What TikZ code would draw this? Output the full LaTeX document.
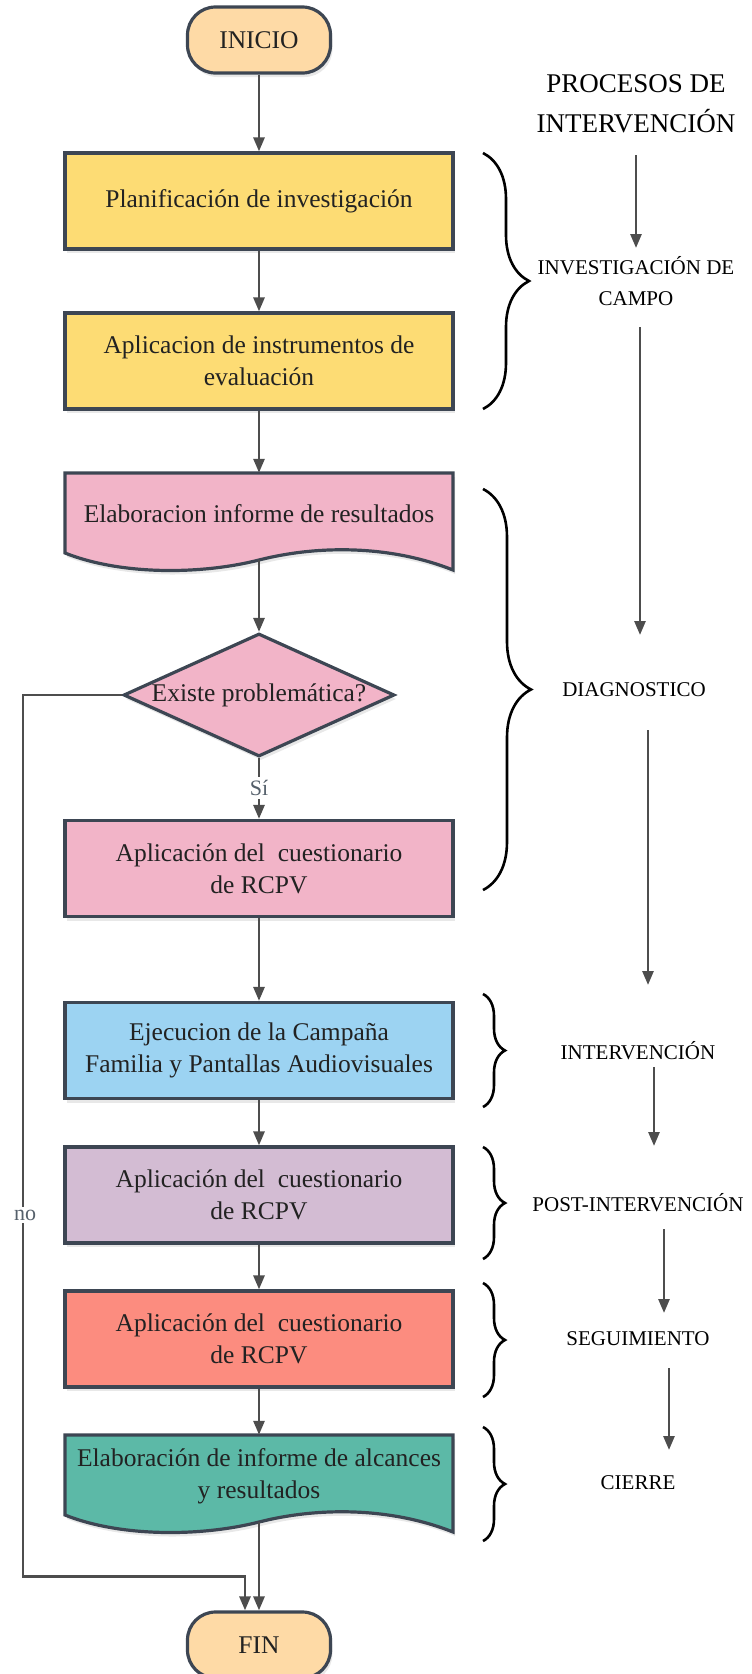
\documentclass[tikz,border=0pt]{standalone}
\usepackage{fontspec}
\setmainfont{Liberation Serif}
\usetikzlibrary{arrows.meta,shapes.geometric,decorations.pathreplacing,shadows}
\definecolor{bord}{HTML}{3D4653}
\definecolor{arrc}{HTML}{4D4D4D}
\definecolor{cterm}{HTML}{FEDAA6}
\definecolor{cyel}{HTML}{FDDC74}
\definecolor{cpink}{HTML}{F2B4C8}
\definecolor{cblue}{HTML}{9CD3F2}
\definecolor{cpurp}{HTML}{D3BCD3}
\definecolor{cred}{HTML}{FC8C7F}
\definecolor{cgreen}{HTML}{5CB9A7}
\definecolor{txt}{HTML}{222222}
\definecolor{lblc}{HTML}{55606B}
\begin{document}
\begin{tikzpicture}[x=1pt,y=-1pt,
 shad/.style={drop shadow={opacity=0.18,shadow xshift=2pt,shadow yshift=-4pt}},
 base/.style={inner sep=0pt,align=center,font=\fontsize{25.5}{32}\selectfont,text=txt},
 proc/.style={base,draw=bord,line width=3.2pt,minimum width=388pt,minimum height=96pt,shad},
 term/.style={proc,minimum width=143pt,minimum height=66pt,rounded corners=28pt,fill=cterm},
 docshape/.style={draw=bord,line width=3.2pt,shad},
 arr/.style={draw=arrc,line width=2.7pt,-{Triangle[length=14pt,width=11pt]}},
 brc/.style={draw=black,line width=2.6pt,decorate,decoration={brace,amplitude=#1}},
 phase/.style={font=\fontsize{21}{31}\selectfont,align=center,text=black,inner sep=2pt},
 lbl/.style={fill=white,text=lblc,font=\fontsize{22}{26}\selectfont,inner sep=3pt}
]
\useasboundingbox (0,0) rectangle (752,1674);

% ---- main flow ----
\node[term] (ini) at (259,40) {INICIO};
\node[proc,fill=cyel] (b1) at (259,201) {Planificación de investigación};
\node[proc,fill=cyel] (b2) at (259,361) {Aplicacion de instrumentos de\\evaluación};

\filldraw[docshape,fill=cpink] (65,473) -- (453,473) -- (453,570)
  .. controls (390,545) and (318,545) .. (259,560)
  .. controls (200,575) and (120,575) .. (65,553) -- cycle;
\node[base,minimum width=388pt,minimum height=82pt] (doc1) at (259,514) {Elaboracion informe de resultados};
\coordinate (doc1b) at (259,560);

\node[base,shape=diamond,aspect=2.2,draw=bord,line width=3.2pt,fill=cpink,shad,
      minimum width=271pt,minimum height=123pt] (dia) at (259,695) {Existe problemática?};

\node[proc,fill=cpink] (b3) at (259,868.5) {Aplicación del\ \ cuestionario\\de RCPV};
\node[proc,fill=cblue] (b4) at (259,1050.5) {Ejecucion de la Campaña\\Familia y Pantallas Audiovisuales};
\node[proc,fill=cpurp] (b5) at (259,1195) {Aplicación del\ \ cuestionario\\de RCPV};
\node[proc,fill=cred] (b6) at (259,1339) {Aplicación del\ \ cuestionario\\de RCPV};

\filldraw[docshape,fill=cgreen] (65,1435) -- (453,1435) -- (453,1532)
  .. controls (390,1507) and (318,1507) .. (259,1522)
  .. controls (200,1537) and (120,1537) .. (65,1515) -- cycle;
\node[base,minimum width=388pt,minimum height=82pt] (doc2) at (259,1476) {Elaboración de informe de alcances\\y resultados};
\coordinate (doc2b) at (259,1522);

\node[term] (fin) at (259,1645) {FIN};

% ---- connectors ----
\draw[arr] (ini) -- (b1);
\draw[arr] (b1) -- (b2);
\draw[arr] (b2) -- (doc1.north);
\draw[arr] (doc1b) -- (dia.north);
\draw[arr] (dia.south) -- (b3.north);
\node[lbl] (si) at (259,788) {Sí};
\draw[arr] (b3) -- (b4);
\draw[arr] (b4) -- (b5);
\draw[arr] (b5) -- (b6);
\draw[arr] (b6) -- (doc2.north);
\draw[arr] (doc2b) -- (fin.north);
\draw[arr] (dia.west) -- ++(-99,0) |- ([xshift=-14pt,yshift=34pt]fin.north) -- ([xshift=-14pt]fin.north);
\node[lbl] (no) at (25,1215) {no};

% ---- braces ----
\coordinate (br1a) at (483,153);  \coordinate (br1b) at (483,409);
\coordinate (br2a) at (483,489);  \coordinate (br2b) at (483,890);
\coordinate (br3a) at (483,994);  \coordinate (br3b) at (483,1107);
\coordinate (br4a) at (483,1147); \coordinate (br4b) at (483,1259);
\coordinate (br5a) at (483,1283); \coordinate (br5b) at (483,1397);
\coordinate (br6a) at (483,1427); \coordinate (br6b) at (483,1541);
\draw[brc=46pt] (br1a) -- (br1b);
\draw[brc=48pt] (br2a) -- (br2b);
\draw[brc=22pt] (br3a) -- (br3b);
\draw[brc=22pt] (br4a) -- (br4b);
\draw[brc=22pt] (br5a) -- (br5b);
\draw[brc=22pt] (br6a) -- (br6b);

% ---- phases ----
\node[phase,font=\fontsize{27}{40}\selectfont] (title) at (636,104) {PROCESOS DE\\INTERVENCIÓN};
\node[phase] (p1) at (636,281) {INVESTIGACIÓN DE\\CAMPO};
\node[phase] (p2) at (634,690) {DIAGNOSTICO};
\node[phase] (p3) at (638,1051) {INTERVENCIÓN};
\node[phase] (p4) at (638,1203) {POST-INTERVENCIÓN};
\node[phase] (p5) at (638,1339) {SEGUIMIENTO};
\node[phase] (p6) at (638,1483) {CIERRE};

\coordinate (r1a) at (636,155);  \coordinate (r1b) at (636,248);
\coordinate (r2a) at (640,327);  \coordinate (r2b) at (640,635);
\coordinate (r3a) at (648,730);  \coordinate (r3b) at (648,985);
\coordinate (r4a) at (654,1067); \coordinate (r4b) at (654,1146);
\coordinate (r5a) at (664,1229); \coordinate (r5b) at (664,1313);
\coordinate (r6a) at (669,1368); \coordinate (r6b) at (669,1450);
\draw[arr] (r1a) -- (r1b);
\draw[arr] (r2a) -- (r2b);
\draw[arr] (r3a) -- (r3b);
\draw[arr] (r4a) -- (r4b);
\draw[arr] (r5a) -- (r5b);
\draw[arr] (r6a) -- (r6b);
\end{tikzpicture}
\end{document}
